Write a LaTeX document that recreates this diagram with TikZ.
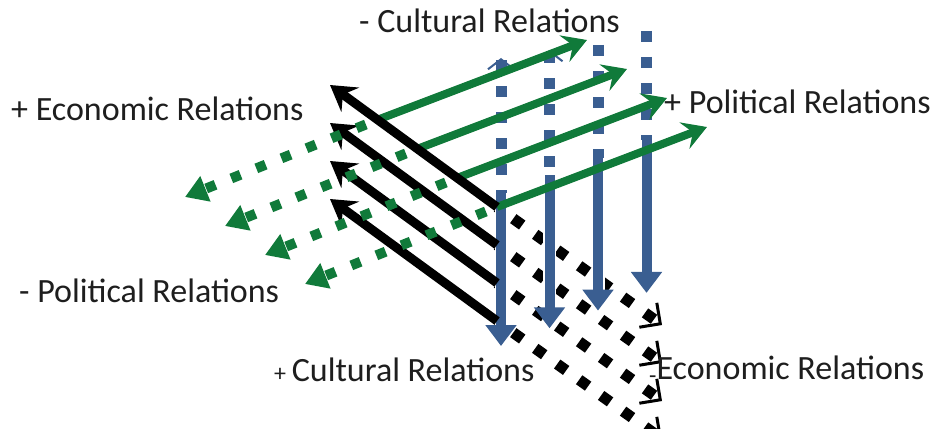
\documentclass[tikz,border=0pt]{standalone}
\usepackage{fontspec}
\setmainfont{Carlito}
\usetikzlibrary{arrows.meta}
\definecolor{grn}{RGB}{16,122,58}
\definecolor{blu}{RGB}{58,94,145}
\definecolor{txt}{RGB}{30,30,30}
\tikzset{
  lbl/.style={font=\fontsize{34}{36}\selectfont, text=txt, inner sep=0pt, anchor=base west},
  blacksolid/.style={line width=9pt, draw=black, -{Stealth[length=25pt,width=30pt,inset=9pt]}},
  blackdot/.style={line width=11pt, draw=black, dash pattern=on 11pt off 16pt, dash phase=-20pt,
     -{Straight Barb[length=15pt,width=30pt,line width=3pt]}},
  greensolid/.style={line width=8pt, draw=grn, -{Stealth[length=24pt,width=28pt,inset=9pt]}},
  greendot/.style={line width=10pt, draw=grn, dash pattern=on 10pt off 17pt, dash phase=-12pt,
     -{Triangle[length=22pt,width=26pt]}},
  bluesolid/.style={line width=10pt, draw=blu, -{Triangle[length=21pt,width=30pt]},
     preaction={draw=white, line width=13pt, -, shorten >=20pt}},
  bluedot/.style={line width=11pt, draw=blu, dash pattern=on 11pt off 15pt},
  bluedothead/.style={bluedot, {Straight Barb[length=10pt,width=26pt,line width=2pt]}-},
}
\begin{document}
\begin{tikzpicture}[x=1pt,y=-1pt]
\useasboundingbox (0,0) rectangle (933,428);
\fill[white] (0,0) rectangle (933,428);
\clip (0,0) rectangle (933,428);
% anchor points
\foreach \k in {0,...,3}{
  \coordinate (bt\k) at (497,{207+38*\k});
  \coordinate (bh\k) at (330,{85+38*\k});
  \coordinate (bd\k) at (662,{325+38*\k});
}
\foreach \j in {0,...,3}{
  \coordinate (gt\j) at ({497-40*\j},{207-29*\j});
  \coordinate (gh\j) at ({707-40*\j},{127-29*\j});
  \coordinate (gd\j) at ({305-40*\j},{284-29*\j});
}
\foreach \i/\tp in {0/58,1/50,2/45,3/31}{
  \coordinate (ut\i) at ({501+48.5*\i},\tp);
  \coordinate (us\i) at ({501+48.5*\i},{193-17.7*\i});
  \coordinate (uh\i) at ({501+48.5*\i},{346-17.7*\i});
}
% black dotted (- economic)
\foreach \k in {0,...,3}{ \draw[blackdot] (bt\k) -- (bd\k); }
% blue dotted (- cultural)
\draw[bluedothead] (ut0) -- (us0);
\draw[bluedothead] (ut1) -- (us1);
\draw[bluedot] (ut2) -- (us2);
\draw[bluedot] (ut3) -- (us3);
% blue solid (+ cultural)
\foreach \i in {0,...,3}{ \draw[bluesolid] (us\i) -- (uh\i); }
% green solid (+ political)
\foreach \j in {0,...,3}{ \draw[greensolid] (gt\j) -- (gh\j); }
% black solid (+ economic)
\foreach \k in {0,...,3}{ \draw[blacksolid] (bt\k) -- (bh\k); }
% green dotted (- political)
\foreach \j in {0,...,3}{ \draw[greendot] (gt\j) -- (gd\j); }
% labels
\node[lbl] (lcm) at (359,33) {- Cultural Relations};
\node[lbl] (lep) at (11,120) {+ Economic Relations};
\node[lbl] (lpp) at (664,113) {+ Political Relations};
\node[lbl] (lpm) at (19,302) {- Political Relations};
\node[lbl] (lcp) at (274,381) {{\fontsize{24}{24}\selectfont +}\,Cultural Relations};
\node[lbl] (lem) at (649,379) {{\fontsize{24}{24}\selectfont\raisebox{-4pt}{-}}Economic Relations};
\end{tikzpicture}
\end{document}
